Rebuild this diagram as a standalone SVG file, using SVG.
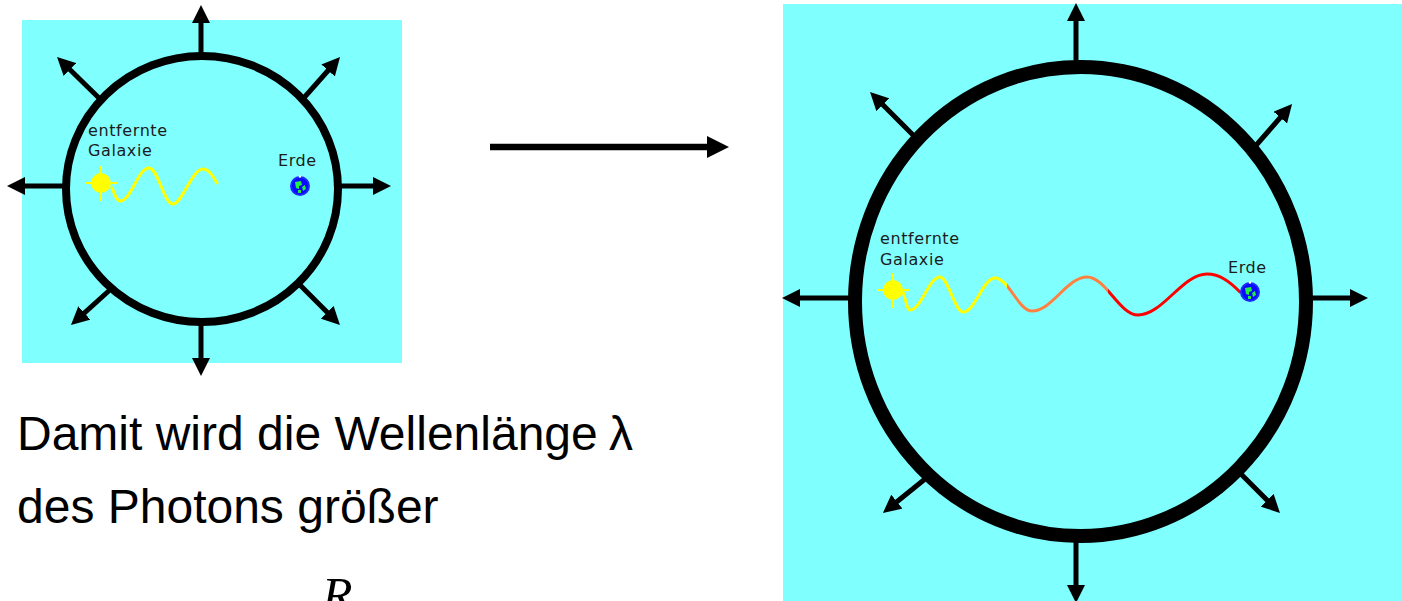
<svg xmlns="http://www.w3.org/2000/svg" width="1402" height="601" viewBox="0 0 1402 601">
  <style>
    .sky { fill: #80ffff; }
    .ring { fill: none; stroke: #000; }
    .shaft { stroke: #000; stroke-width: 5; fill: none; marker-end: url(#head); }
    .label { font-family: "DejaVu Sans", Verdana, sans-serif; font-size: 16px; letter-spacing: 0.6px; fill: #1c1c1c; }
    .caption { font-family: "Liberation Sans", Arial, sans-serif; font-size: 48px; fill: #000; }
    .formula { font-family: "Liberation Serif", "Times New Roman", serif; font-size: 50px; font-style: italic; fill: #000; }
    .sun { fill: #ffff00; }
    .ray { stroke: #ffff00; stroke-width: 2; }
    .wave { fill: none; stroke-width: 3; stroke-linecap: round; stroke-linejoin: round; }
  </style>
  <defs>
    <marker id="head" markerUnits="userSpaceOnUse" markerWidth="18" markerHeight="18" refX="8" refY="9" orient="auto">
      <path d="M0,0 L18,9 L0,18 z" fill="#000"/>
    </marker>
    <marker id="bigHead" markerUnits="userSpaceOnUse" markerWidth="22" markerHeight="22" refX="10" refY="11" orient="auto">
      <path d="M0,0 L22,11 L0,22 z" fill="#000"/>
    </marker>
    <!-- photon colour shifts from yellow to orange to red along its path -->
    <linearGradient id="redshift" gradientUnits="userSpaceOnUse" x1="903" y1="0" x2="1250" y2="0">
      <stop offset="0" stop-color="#ffff00"/>
      <stop offset="0.2997" stop-color="#ffff00"/>
      <stop offset="0.2997" stop-color="#ff8040"/>
      <stop offset="0.5908" stop-color="#ff8040"/>
      <stop offset="0.5908" stop-color="#ff0000"/>
      <stop offset="1" stop-color="#ff0000"/>
    </linearGradient>
    <g id="earth">
      <circle r="10" fill="#1a2cff"/>
      <circle r="8" fill="#0a0aff"/>
      <path d="M-5,-4 L1,-5 L2,-1 L-1,0 L-1,3 L-4,2 z" fill="#22ee44"/>
      <path d="M2,1 L5,-1 L6,3 L3,5 z" fill="#22ee44"/>
      <path d="M-2,4 L1,4 L1,7 L-2,7 z" fill="#22ee44"/>
      <circle cx="0" cy="-9.5" r="1.2" fill="#ffffff"/>
    </g>
    <g id="star">
      <line class="ray" x1="-16" y1="0" x2="16" y2="0"/>
      <line class="ray" x1="0" y1="-17" x2="0" y2="18"/>
      <circle class="sun" r="10"/>
    </g>
  </defs>

  <!-- small universe -->
  <g id="universe-small">
    <rect class="sky" x="22" y="20" width="380" height="343"/>
  </g>

  <!-- expanded universe -->
  <g id="universe-large">
    <rect class="sky" x="783" y="4" width="619" height="597"/>
  </g>

  <g id="connectors">
    <!-- expansion arrows, small universe -->
    <line class="shaft" x1="201" y1="56" x2="201" y2="15"/>
    <line class="shaft" x1="201" y1="322" x2="201" y2="366"/>
    <line class="shaft" x1="66" y1="186" x2="17" y2="186"/>
    <line class="shaft" x1="338" y1="186" x2="381" y2="186"/>
    <line class="shaft" x1="100" y1="99" x2="64.2" y2="64"/>
    <line class="shaft" x1="302" y1="100" x2="333.4" y2="64.5"/>
    <line class="shaft" x1="112" y1="288" x2="78.4" y2="318.3"/>
    <line class="shaft" x1="300" y1="285" x2="332.9" y2="317.9"/>

    <!-- expansion arrows, expanded universe -->
    <line class="shaft" x1="1076" y1="64" x2="1076" y2="13"/>
    <line class="shaft" x1="1076" y1="539" x2="1076" y2="593"/>
    <line class="shaft" x1="852" y1="298" x2="792" y2="298"/>
    <line class="shaft" x1="1309" y1="298" x2="1358" y2="298"/>
    <line class="shaft" x1="916" y1="138" x2="877.1" y2="99.1"/>
    <line class="shaft" x1="1252" y1="150" x2="1285.5" y2="111.6"/>
    <line class="shaft" x1="930" y1="475" x2="890.7" y2="506.7"/>
    <line class="shaft" x1="1239" y1="472" x2="1272.9" y2="505.9"/>

    <!-- transition arrow -->
    <line x1="490" y1="147" x2="717" y2="147" stroke="#000" stroke-width="6.5" marker-end="url(#bigHead)"/>
  </g>

  <g id="ring-small">
    <ellipse class="ring" cx="202" cy="189" rx="136" ry="133" stroke-width="8"/>
  </g>
  <g id="ring-large">
    <ellipse class="ring" cx="1080.5" cy="301.5" rx="225.5" ry="234.5" stroke-width="14"/>
  </g>

  <g id="galaxy-small">
    <use href="#star" x="101" y="183"/>
    <text class="label" x="88" y="136">entfernte</text>
    <text class="label" x="88" y="156">Galaxie</text>
  </g>
  <g id="photon-small">
    <path class="wave" stroke="#ffff00" d="M112,188 C115,195 117,201 120,201 C131,201 138,168 149,168 C158,168 164,204 173,204 C182,204 192,169 203,169 C209,169 213,176 217,183"/>
  </g>
  <g id="earth-small">
    <use href="#earth" x="300" y="186"/>
    <text class="label" x="278" y="166">Erde</text>
  </g>

  <g id="galaxy-large">
    <use href="#star" x="893" y="290"/>
    <text class="label" x="880" y="244">entfernte</text>
    <text class="label" x="880" y="265">Galaxie</text>
  </g>
  <g id="photon-large">
    <path class="wave" stroke="url(#redshift)" d="M903,292 C906,300 907,310 910,310 C921,310 929,277 940,277 C948,277 955,312 963,312 C975,312 983,278 995,278 C1008.5,278 1018.5,311 1032,311 C1052,311 1067,277 1087,277 C1105.6,277 1119.4,315 1138,315 C1163,315 1182,274 1207,274 C1220,274 1230,282 1240,292"/>
  </g>
  <g id="earth-large">
    <use href="#earth" x="1250" y="292"/>
    <text class="label" x="1228" y="273">Erde</text>
  </g>

  <g id="caption">
    <text class="caption" x="17" y="450">Damit wird die Wellenlänge<tspan x="609">λ</tspan></text>
    <text class="caption" x="17" y="523">des Photons größer</text>
    <text class="formula" x="322" y="612">R</text>
  </g>
</svg>
